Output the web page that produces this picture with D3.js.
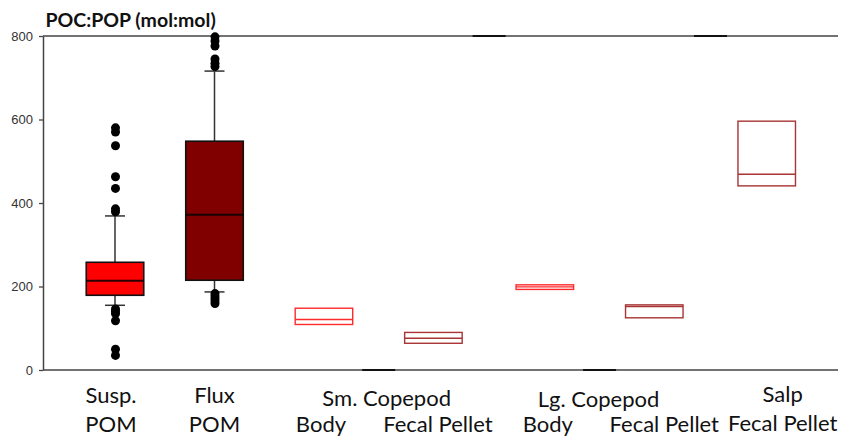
<!DOCTYPE html>
<html>
<head>
<meta charset="utf-8">
<script src="https://cdn.jsdelivr.net/npm/d3@7"></script>
<style>
  html, body { margin: 0; padding: 0; background: #fff; }
  svg { display: block; }
</style>
</head>
<body>
<div id="chart"></div>
<script>
// ---- data ----
const categories = ["Susp. POM", "Flux POM", "Sm. Copepod Body", "Sm. Copepod Fecal Pellet",
                    "Lg. Copepod Body", "Lg. Copepod Fecal Pellet", "Salp Fecal Pellet"];
const xPos = [1, 2, 3.1, 4.2, 5.32, 6.42, 7.55];
const q1 = [179, 215, 109, 64, 193, 125, 441];
const medians = [214, 372, 121, 76, 199, 152, 469];
const q3 = [258, 548, 148, 90, 204, 156, 596];
const whiskerLow = [155, 187, null, null, null, null, null];
const whiskerHigh = [369, 716, null, null, null, null, null];
const outliersSusp = [580, 570, 537, 463, 435, 386, 379, 146, 140, 135, 118, 50, 35];
const outliersFlux = [798, 788, 776, 745, 735, 727, 183, 177, 171, 165, 159];
const yTicks = [0, 200, 400, 600, 800];
const yTitle = "POC:POP (mol:mol)";

// ---- layout ----
const W = 842, H = 437;
const svg = d3.select("#chart").append("svg").attr("width", W).attr("height", H);

const x = d3.scaleLinear().domain([0.2764, 8.2663]).range([43, 838]);
const y = d3.scaleLinear().domain([0, 800]).range([370, 36]);
const boxW = 0.578, capW = 0.201;

const fills = ["#ff0000", "#800000", "none", "none", "none", "none", "none"];
const strokes = ["#111", "#111", "#ff2a2a", "#a83434", "#ff2a2a", "#a83434", "#a83434"];
const medStroke = ["#2a0000", "#1a0000", "#ff2a2a", "#a83434", "#ff2a2a", "#a83434", "#a83434"];

// axis frame lines (top and bottom)
[0, 800].forEach(v => {
  svg.append("line")
    .attr("x1", x.range()[0]).attr("x2", x.range()[1])
    .attr("y1", y(v)).attr("y2", y(v))
    .attr("stroke", "#444").attr("stroke-width", 1.3);
});
// darker overlapping segments at midpoints between boxes
const segs = [[2, 3, 0], [4, 5, 0], [3, 4, 800], [5, 6, 800]];
segs.forEach(([a, b, v]) => {
  const m = (x(xPos[a]) + x(xPos[b])) / 2;
  svg.append("line")
    .attr("x1", m - 16.5).attr("x2", m + 16.5)
    .attr("y1", y(v)).attr("y2", y(v))
    .attr("stroke", "#111").attr("stroke-width", 2);
});

// y axis
const yAxis = svg.append("g").attr("transform", `translate(${x.range()[0]},0)`)
  .call(d3.axisLeft(y).tickValues(yTicks).tickSize(4).tickPadding(6).tickSizeOuter(0));
yAxis.select(".domain").attr("stroke", "#444").attr("stroke-width", 1.5);
yAxis.selectAll(".tick line").attr("stroke", "#444").attr("stroke-width", 1.3);
yAxis.selectAll(".tick text")
  .attr("font-family", "Liberation Sans, Arial, sans-serif")
  .attr("font-size", 13).attr("fill", "#333");

// title
svg.append("text").attr("x", 45.5).attr("y", 26.5)
  .attr("font-family", "Lato, sans-serif").attr("font-weight", "bold")
  .attr("font-size", 19.5).attr("fill", "#111").text(yTitle);

// boxes
const g = svg.append("g");
categories.forEach((c, i) => {
  const cx = x(xPos[i]);
  const hw = (x(xPos[i] + boxW / 2) - x(xPos[i] - boxW / 2)) / 2;
  const cw = (x(xPos[i] + capW / 2) - x(xPos[i] - capW / 2)) / 2;
  if (whiskerLow[i] != null) {
    g.append("line").attr("x1", cx).attr("x2", cx)
      .attr("y1", y(q1[i])).attr("y2", y(whiskerLow[i]))
      .attr("stroke", "#333").attr("stroke-width", 1.5);
    g.append("line").attr("x1", cx - cw).attr("x2", cx + cw)
      .attr("y1", y(whiskerLow[i])).attr("y2", y(whiskerLow[i]))
      .attr("stroke", "#333").attr("stroke-width", 1.5);
  }
  if (whiskerHigh[i] != null) {
    g.append("line").attr("x1", cx).attr("x2", cx)
      .attr("y1", y(q3[i])).attr("y2", y(whiskerHigh[i]))
      .attr("stroke", "#333").attr("stroke-width", 1.5);
    g.append("line").attr("x1", cx - cw).attr("x2", cx + cw)
      .attr("y1", y(whiskerHigh[i])).attr("y2", y(whiskerHigh[i]))
      .attr("stroke", "#333").attr("stroke-width", 1.5);
  }
  const filled = fills[i] !== "none";
  g.append("rect")
    .attr("x", cx - hw).attr("width", 2 * hw)
    .attr("y", y(q3[i])).attr("height", y(q1[i]) - y(q3[i]))
    .attr("fill", fills[i]).attr("stroke", strokes[i])
    .attr("stroke-width", filled ? 1.6 : 1.4);
  g.append("line").attr("x1", cx - hw).attr("x2", cx + hw)
    .attr("y1", y(medians[i])).attr("y2", y(medians[i]))
    .attr("stroke", medStroke[i]).attr("stroke-width", filled ? 2 : 1.4);
});

// outliers
[[0, outliersSusp], [1, outliersFlux]].forEach(([i, arr]) => {
  g.selectAll(null).data(arr).enter().append("circle")
    .attr("cx", x(xPos[i]) + 0.5).attr("cy", d => y(d)).attr("r", 4.5)
    .attr("fill", "#000");
});

// category labels (two lines, grouped)
const labelFont = "Lato, 'Open Sans', sans-serif";
const labels = [
  { t: "Susp.", cx: x(xPos[0]) - 4, y: 403 },
  { t: "POM", cx: x(xPos[0]) - 4, y: 431.5 },
  { t: "Flux", cx: x(xPos[1]), y: 403 },
  { t: "POM", cx: x(xPos[1]), y: 431.5 },
  { t: "Sm. Copepod", cx: (x(xPos[2]) + x(xPos[3])) / 2 + 8, y: 406 },
  { t: "Body", cx: x(xPos[2]) - 3, y: 431.5 },
  { t: "Fecal Pellet", cx: x(xPos[3]) + 4.5, y: 431.5 },
  { t: "Lg. Copepod", cx: (x(xPos[4]) + x(xPos[5])) / 2 - 1, y: 406.5 },
  { t: "Body", cx: x(xPos[4]) + 3, y: 431.5 },
  { t: "Fecal Pellet", cx: x(xPos[5]) + 10, y: 431.5 },
  { t: "Salp", cx: x(xPos[6]) + 16, y: 402 },
  { t: "Fecal Pellet", cx: x(xPos[6]) + 16, y: 430.5 }
];
svg.selectAll(null).data(labels).enter().append("text")
  .attr("x", d => d.cx).attr("y", d => d.y)
  .attr("text-anchor", "middle")
  .attr("font-family", labelFont).attr("font-size", 22)
  .attr("fill", "#111").text(d => d.t);
</script>
</body>
</html>
